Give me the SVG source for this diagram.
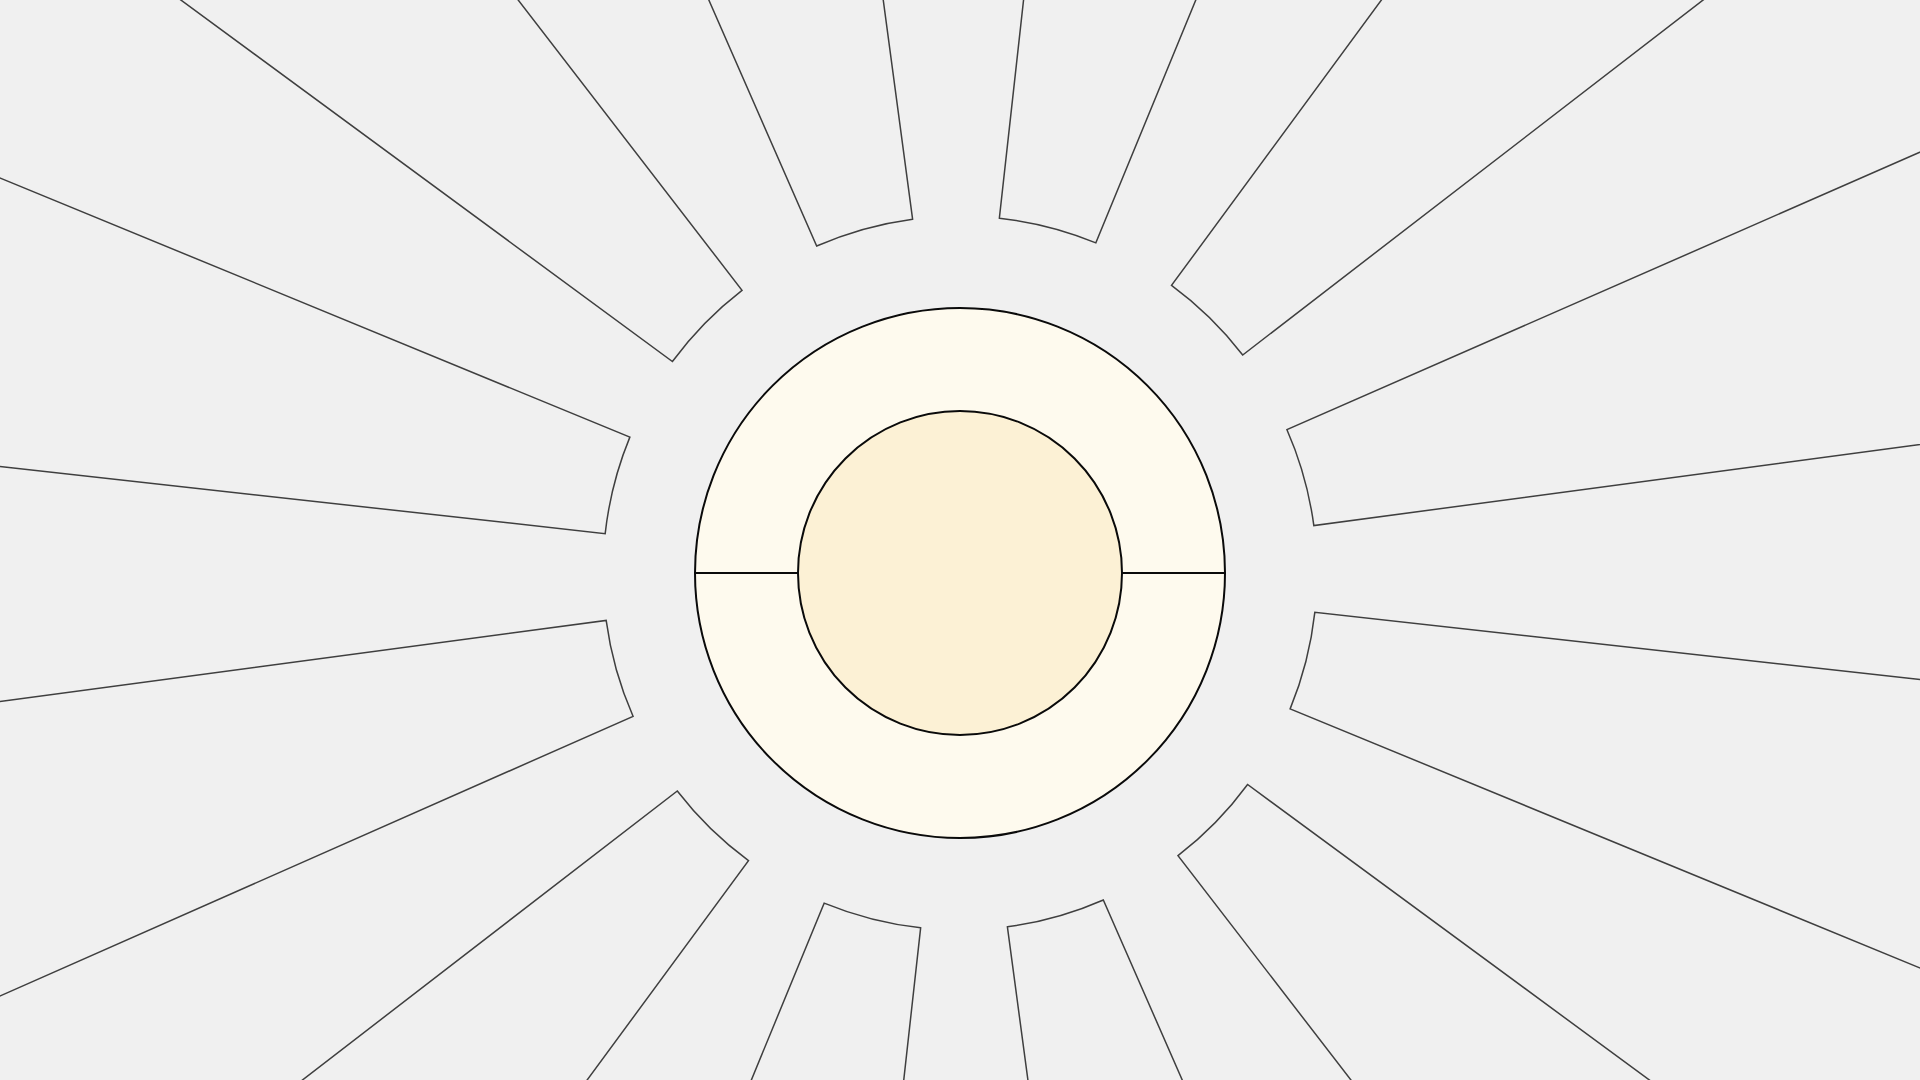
<svg xmlns="http://www.w3.org/2000/svg" width="1920" height="1080" viewBox="0 0 1920 1080">
<style>
.ray{fill:none;stroke:#3f3f3f;stroke-width:1.5;stroke-linejoin:miter}
.ring{stroke:#0a0a0a;stroke-width:2}
.div{stroke:#0a0a0a;stroke-width:2}
</style>
<rect width="1920" height="1080" fill="#f0f0f0"/>
<g id="rays">
<path id="ray-1" class="ray" d="M1103.3,-719.1 L999.36,218.18 A357,357 0 0 1 1095.86,242.86 L1454.7,-629.2"/>
<path id="ray-2" class="ray" d="M1730.2,-474.3 L1171.52,285.40 A357,357 0 0 1 1242.71,355.00 L1989.5,-220.8"/>
<path id="ray-3" class="ray" d="M2150.6,51.1 L1286.96,429.68 A357,357 0 0 1 1313.84,525.60 L2248.5,400.4"/>
<path id="ray-4" class="ray" d="M2252.1,716.3 L1314.82,612.36 A357,357 0 0 1 1290.14,708.86 L2162.2,1067.7"/>
<path id="ray-5" class="ray" d="M2007.3,1343.2 L1247.60,784.52 A357,357 0 0 1 1178.00,855.71 L1753.8,1602.5"/>
<path id="ray-6" class="ray" d="M1481.9,1763.6 L1103.32,899.96 A357,357 0 0 1 1007.40,926.84 L1132.6,1861.5"/>
<path id="ray-7" class="ray" d="M816.7,1865.1 L920.64,927.82 A357,357 0 0 1 824.14,903.14 L465.3,1775.2"/>
<path id="ray-8" class="ray" d="M189.8,1620.3 L748.48,860.60 A357,357 0 0 1 677.29,791.00 L-69.5,1366.8"/>
<path id="ray-9" class="ray" d="M-253.2,1107.9 L633.04,716.32 A357,357 0 0 1 606.16,620.40 L-328.5,745.6"/>
<path id="ray-10" class="ray" d="M-332.1,429.7 L605.18,533.64 A357,357 0 0 1 629.86,437.14 L-242.2,78.3"/>
<path id="ray-11" class="ray" d="M-87.3,-197.2 L672.40,361.48 A357,357 0 0 1 742.00,290.29 L166.2,-456.5"/>
<path id="ray-12" class="ray" d="M438.1,-617.6 L816.68,246.04 A357,357 0 0 1 912.60,219.16 L787.4,-715.5"/>
</g>
<g id="outer-circle">
<circle class="ring" cx="960" cy="573" r="265" fill="#fefaee"/>
</g>
<g id="connectors">
<line class="div" x1="695" y1="573" x2="1225" y2="573"/>
</g>
<g id="inner-circle">
<circle class="ring" cx="960" cy="573" r="162" fill="#fcf1d5"/>
</g>
</svg>
